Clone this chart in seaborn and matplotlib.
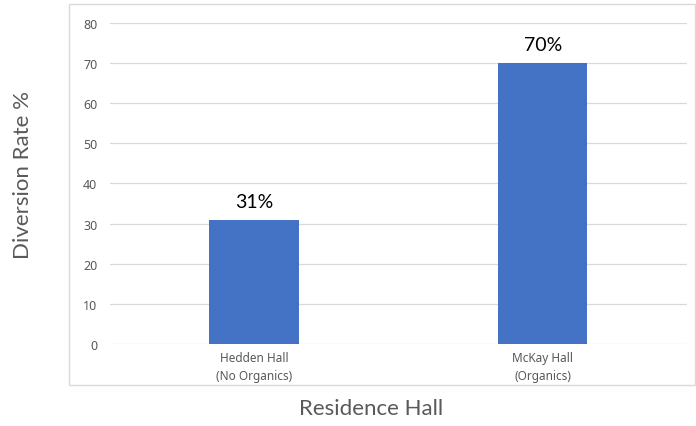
import pandas as pd
import seaborn as sns
import matplotlib.pyplot as plt
from matplotlib.patches import Rectangle

halls = ['Hedden Hall\n(No Organics)', 'McKay Hall\n(Organics)']
diversion_rate = [31, 70]
bar_labels = ['31%', '70%']

df = pd.DataFrame({'hall': halls, 'rate': diversion_rate})

sns.set_theme(style='white')
plt.rcParams['font.family'] = ['Noto Sans', 'DejaVu Sans']

fig = plt.figure(figsize=(6.96, 4.27), dpi=100)
ax = fig.add_axes([0.158, 0.192, 0.829, 0.752])

# chart area border
fig.patches.append(Rectangle((69 / 696, 1 - 386 / 427), 626 / 696, 381 / 427,
                             transform=fig.transFigure, fill=False,
                             edgecolor='#D9D9D9', linewidth=1, zorder=0))

sns.barplot(data=df, x='hall', y='rate', color='#4472C4', width=0.31,
            saturation=1, linewidth=0, ax=ax, zorder=3)
ax.bar_label(ax.containers[0], labels=bar_labels, padding=7, fontsize=14,
             color='black', family=['Lato', 'DejaVu Sans'])

ax.set_ylim(0, 80)
ax.set_yticks(range(0, 81, 10))
ax.yaxis.grid(True, color='#D9D9D9', linewidth=0.9)
ax.set_axisbelow(True)
for s in ax.spines.values():
    s.set_visible(False)
ax.tick_params(axis='y', labelsize=9, colors='#595959', length=0, pad=9)
ax.tick_params(axis='x', labelsize=8.5, colors='#595959', length=0, pad=5)
for t in ax.get_xticklabels():
    t.set_linespacing(1.5)

ax.set_xlabel('Residence Hall', fontsize=16, color='#595959',
              family=['Lato', 'DejaVu Sans'])
ax.set_ylabel('Diversion Rate %', fontsize=16, color='#595959',
              family=['Lato', 'DejaVu Sans'])
ax.xaxis.set_label_coords(0.452, -0.168)
ax.yaxis.set_label_coords(-0.133, 0.53)

fig.savefig('out.png', dpi=100)
